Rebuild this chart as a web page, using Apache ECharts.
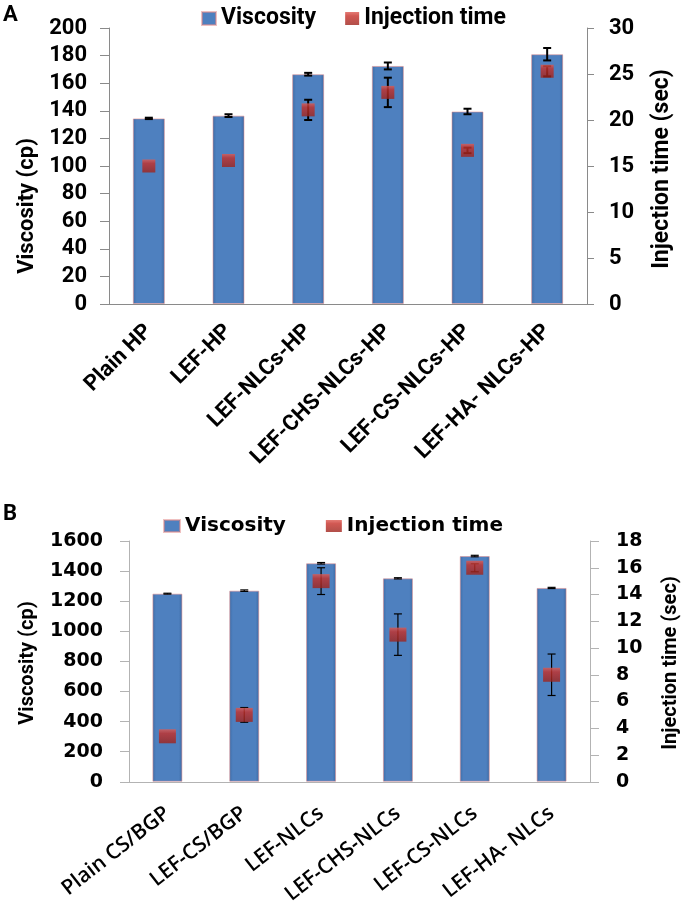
<!DOCTYPE html>
<html>
<head>
<meta charset="utf-8">
<script src="https://cdn.jsdelivr.net/npm/echarts@6/dist/echarts.min.js"></script>
<style>
  html, body { margin: 0; padding: 0; background: #fff; }
  #chart { width: 685px; height: 907px; }
</style>
</head>
<body>
<div id="chart"></div>
<script>
// panel A: hydrogels (HP)
const catsA = ['Plain HP', 'LEF-HP', 'LEF-NLCs-HP', 'LEF-CHS-NLCs-HP', 'LEF-CS-NLCs-HP', 'LEF-HA- NLCs-HP']
const viscA = [134.5, 136.5, 166.5, 172.5, 139.5, 181]
const viscErrA = [0.5, 1, 1, 2.5, 2, 4.5]
const injA = [15.0, 15.6, 21.1, 23.0, 16.7, 25.3]
const injErrA = [0, 0, 1.1, 1.6, 0.3, 0.55]

// panel B: in situ gels (CS/BGP)
const catsB = ['Plain CS/BGP', 'LEF-CS/BGP', 'LEF-NLCs', 'LEF-CHS-NLCs', 'LEF-CS-NLCs', 'LEF-HA- NLCs']
const viscB = [1250, 1270, 1452, 1352, 1500, 1288]
const viscErrB = [3, 5, 5, 4, 5, 4]
const injB = [3.4, 5.0, 15.0, 11.0, 16.0, 8.0]
const injErrB = [0, 0.55, 1.0, 1.55, 0.3, 1.55]

const chart = echarts.init(document.getElementById('chart'))

const barColor = new echarts.graphic.LinearGradient(0, 0, 1, 0, [
  { offset: 0, color: '#3d6ca6' },
  { offset: 0.12, color: '#4e80bf' },
  { offset: 0.88, color: '#4e80bf' },
  { offset: 1, color: '#3b69a2' }
])
const markColor = new echarts.graphic.LinearGradient(0, 0, 0, 1, [
  { offset: 0, color: '#de5a52' },
  { offset: 0.3, color: '#c62f28' },
  { offset: 1, color: '#9e231c' }
])
const bevelColor = new echarts.graphic.LinearGradient(0, 0, 0, 1, [
  { offset: 0, color: '#b4d0f2' },
  { offset: 1, color: '#5a8bc9' }
])

// light bevel on top of each bar
const bevelItem = (params, api, bw) => {
  const top = api.coord([api.value(0), api.value(1)])
  const l = top[0] - bw / 2
  const r = top[0] + bw / 2
  return {
    type: 'polygon',
    shape: {
      points: [[l + 1, top[1] + 1], [r - 1, top[1] + 1], [r - 4, top[1] + 4], [top[0], top[1] + 7], [l + 4, top[1] + 4]]
    },
    style: { fill: bevelColor }
  }
}

const errItem = (cap, lw) => (params, api) => {
  const x = api.value(0)
  const v = api.value(1)
  const e = api.value(2)
  if (!e) return null
  const hi = api.coord([x, v + e])
  const lo = api.coord([x, v - e])
  const st = { stroke: '#000', lineWidth: lw }
  return {
    type: 'group',
    children: [
      { type: 'line', shape: { x1: hi[0], y1: hi[1], x2: lo[0], y2: lo[1] }, style: st },
      { type: 'line', shape: { x1: hi[0] - cap, y1: hi[1], x2: hi[0] + cap, y2: hi[1] }, style: st },
      { type: 'line', shape: { x1: lo[0] - cap, y1: lo[1], x2: lo[0] + cap, y2: lo[1] }, style: st }
    ]
  }
}

const toErr = (vals, errs) => vals.map((v, i) => [i, v, errs[i]])
const toPts = (vals) => vals.map((v, i) => [i, v])

const fontA = 'Roboto'
const fontB = 'DejaVu Sans'

const axisNameText = (text, x, y, size, font) => ({
  type: 'text',
  x: x,
  y: y,
  rotation: Math.PI / 2,
  style: {
    text: text,
    font: 'bold ' + size + 'px "' + font + '"',
    fill: '#000',
    align: 'center',
    verticalAlign: 'middle'
  }
})

const plainNum = (v) => String(v)

chart.setOption({
  animation: false,
  graphic: [
    { type: 'text', x: 3, y: 4, style: { text: 'A', font: 'bold 22px "Roboto"', fill: '#000' } },
    { type: 'text', x: 3, y: 503, style: { text: 'B', font: 'bold 22px "Roboto"', fill: '#000' } },
    axisNameText('Viscosity (cp)', 27, 206, 22, fontA),
    axisNameText('Injection time (sec)', 662, 169, 23, fontA),
    axisNameText('Viscosity (cp)', 28, 663, 20, fontA),
    axisNameText('Injection time (sec)', 671, 663, 20, fontA)
  ],
  legend: [
    {
      left: 196,
      top: 2,
      icon: 'rect',
      itemWidth: 14,
      itemHeight: 13,
      itemGap: 29,
      data: ['Viscosity', 'Injection time'],
      textStyle: { fontFamily: fontA, fontWeight: 'bold', fontSize: 23, color: '#000' },
      selectedMode: false
    },
    {
      left: 158,
      top: 511,
      icon: 'rect',
      itemWidth: 16,
      itemHeight: 12,
      itemGap: 40,
      data: ['Viscosity', 'Injection time'],
      textStyle: { fontFamily: fontB, fontWeight: 'bold', fontSize: 20, color: '#000' },
      selectedMode: false
    }
  ],
  grid: [
    { left: 109, right: 98, top: 28, bottom: 603 },
    { left: 129, right: 95, top: 541, bottom: 121 }
  ],
  xAxis: [
    {
      type: 'category',
      gridIndex: 0,
      data: catsA,
      axisLine: { lineStyle: { color: '#8a8a8a', width: 1 } },
      axisTick: { length: 7, lineStyle: { color: '#8a8a8a' } },
      axisLabel: {
        rotate: 45,
        interval: 0,
        margin: 24,
        fontFamily: fontA,
        fontWeight: 'bold',
        fontSize: 22,
        color: '#000'
      }
    },
    {
      type: 'category',
      gridIndex: 1,
      data: catsB,
      axisLine: { lineStyle: { color: '#b3b3b3', width: 1 } },
      axisTick: { length: 7, lineStyle: { color: '#b3b3b3' } },
      axisLabel: {
        rotate: 38,
        interval: 0,
        margin: 29,
        fontFamily: 'Open Sans',
        fontWeight: 600,
        fontSize: 21,
        color: '#000'
      }
    }
  ],
  yAxis: [
    {
      type: 'value',
      gridIndex: 0,
      min: 0,
      max: 200,
      interval: 20,
      axisLine: { show: true, lineStyle: { color: '#8a8a8a' } },
      axisTick: { show: true, length: 9, lineStyle: { color: '#8a8a8a' } },
      splitLine: { show: false },
      axisLabel: { margin: 22, fontFamily: fontA, fontWeight: 'bold', fontSize: 22, color: '#000' }
    },
    {
      type: 'value',
      gridIndex: 0,
      position: 'right',
      min: 0,
      max: 30,
      interval: 5,
      axisLine: { show: true, lineStyle: { color: '#8a8a8a' } },
      axisTick: { show: true, length: 7, lineStyle: { color: '#8a8a8a' } },
      splitLine: { show: false },
      axisLabel: { margin: 22, fontFamily: fontA, fontWeight: 'bold', fontSize: 22, color: '#000' }
    },
    {
      type: 'value',
      gridIndex: 1,
      min: 0,
      max: 1600,
      interval: 200,
      axisLine: { show: true, lineStyle: { color: '#b3b3b3' } },
      axisTick: { show: true, length: 9, lineStyle: { color: '#b3b3b3' } },
      splitLine: { show: false },
      axisLabel: { margin: 26, fontFamily: fontB, fontWeight: 'bold', fontSize: 19, color: '#000', formatter: plainNum }
    },
    {
      type: 'value',
      gridIndex: 1,
      position: 'right',
      min: 0,
      max: 18,
      interval: 2,
      axisLine: { show: true, lineStyle: { color: '#b3b3b3' } },
      axisTick: { show: true, length: 9, lineStyle: { color: '#b3b3b3' } },
      splitLine: { show: false },
      axisLabel: { margin: 26, fontFamily: fontB, fontWeight: 'bold', fontSize: 19, color: '#000', formatter: plainNum }
    }
  ],
  series: [
    {
      name: 'Viscosity',
      type: 'bar',
      xAxisIndex: 0,
      yAxisIndex: 0,
      barWidth: 32,
      data: viscA,
      itemStyle: { color: barColor, borderColor: 'rgba(225,140,140,0.55)', borderWidth: 1 }
    },
    {
      type: 'custom',
      xAxisIndex: 0,
      yAxisIndex: 0,
      renderItem: (p, api) => bevelItem(p, api, 32),
      data: toPts(viscA),
      z: 2,
      silent: true
    },
    {
      type: 'custom',
      xAxisIndex: 0,
      yAxisIndex: 0,
      renderItem: errItem(4, 2),
      data: toErr(viscA, viscErrA),
      z: 3
    },
    {
      type: 'custom',
      xAxisIndex: 0,
      yAxisIndex: 1,
      renderItem: errItem(4, 2),
      data: toErr(injA, injErrA),
      z: 3
    },
    {
      name: 'Injection time',
      type: 'scatter',
      xAxisIndex: 0,
      yAxisIndex: 1,
      symbol: 'rect',
      symbolSize: 13,
      data: injA,
      itemStyle: { color: markColor },
      z: 4
    },
    {
      name: 'Viscosity',
      type: 'bar',
      xAxisIndex: 1,
      yAxisIndex: 2,
      barWidth: 30,
      data: viscB,
      itemStyle: { color: barColor, borderColor: 'rgba(225,140,140,0.55)', borderWidth: 1 }
    },
    {
      type: 'custom',
      xAxisIndex: 1,
      yAxisIndex: 2,
      renderItem: (p, api) => bevelItem(p, api, 30),
      data: toPts(viscB),
      z: 2,
      silent: true
    },
    {
      type: 'custom',
      xAxisIndex: 1,
      yAxisIndex: 2,
      renderItem: errItem(4, 1.2),
      data: toErr(viscB, viscErrB),
      z: 3
    },
    {
      type: 'custom',
      xAxisIndex: 1,
      yAxisIndex: 3,
      renderItem: errItem(4, 1.2),
      data: toErr(injB, injErrB),
      z: 3
    },
    {
      name: 'Injection time',
      type: 'scatter',
      xAxisIndex: 1,
      yAxisIndex: 3,
      symbol: 'rect',
      symbolSize: [17, 14],
      data: injB,
      itemStyle: { color: markColor },
      z: 4
    }
  ]
})
</script>
</body>
</html>
